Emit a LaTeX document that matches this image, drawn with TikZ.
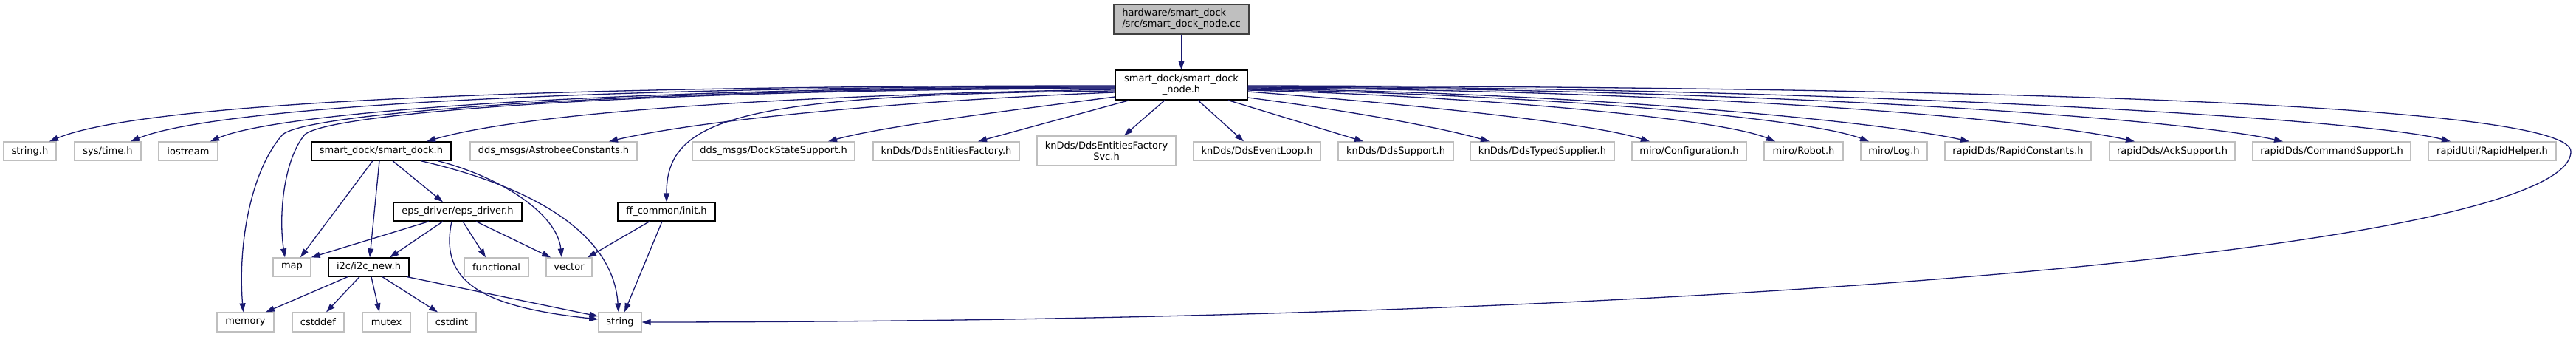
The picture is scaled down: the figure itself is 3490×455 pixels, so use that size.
\documentclass[tikz,border=0pt]{standalone}
\usepackage{fontspec}
\setmainfont{DejaVu Sans}
\usetikzlibrary{arrows.meta,calc}
\definecolor{edgeblue}{HTML}{191970}
\definecolor{leafgray}{HTML}{BFBFBF}
\definecolor{rootborder}{HTML}{404040}
\begin{document}
\begin{tikzpicture}[x=1pt,y=-1pt,
  box/.style={draw, fill=white, line width=1.3pt, inner sep=0pt, font=\fontsize{13}{15}\selectfont, text=black},
  leaf/.style={box, draw=leafgray},
  docbox/.style={box, draw=black},
  rootbox/.style={box, draw=rootborder, fill=leafgray},
  edge/.style={draw=edgeblue, line width=1.3pt, -{Triangle[length=12pt,width=8pt]}},
]
\fill[white] (0,0) rectangle (3490,455);
\useasboundingbox (0,0) rectangle (3490,455);

% row 1 and 2
\node[rootbox, minimum width=183, minimum height=40, align=left] (root) at (1600.5,26) {hardware/smart\_dock\\/src/smart\_dock\_node.cc};
\node[docbox, minimum width=179, minimum height=40, align=center] (nodeh) at (1600.5,115) {smart\_dock/smart\_dock\\\_node.h};

% row 3
\node[leaf, minimum width=71, minimum height=25] (stringh) at (40.5,204.5) {string.h};
\node[leaf, minimum width=90, minimum height=25] (systime) at (146,204.5) {sys/time.h};
\node[leaf, minimum width=80, minimum height=25] (iostream) at (255,204.5) {iostream};
\node[docbox, minimum width=189, minimum height=25] (smartdock) at (516.5,204.5) {smart\_dock/smart\_dock.h};
\node[leaf, minimum width=226, minimum height=25] (astrobee) at (750,204.5) {dds\_msgs/AstrobeeConstants.h};
\node[leaf, minimum width=220, minimum height=25] (dockstate) at (1048,204.5) {dds\_msgs/DockStateSupport.h};
\node[leaf, minimum width=198, minimum height=25] (entfac) at (1282,204.5) {knDds/DdsEntitiesFactory.h};
\node[leaf, minimum width=188, minimum height=40, align=center] (svc) at (1499,204) {knDds/DdsEntitiesFactory\\Svc.h};
\node[leaf, minimum width=172, minimum height=25] (eventloop) at (1703,204.5) {knDds/DdsEventLoop.h};
\node[leaf, minimum width=156, minimum height=25] (ddssupport) at (1891,204.5) {knDds/DdsSupport.h};
\node[leaf, minimum width=195, minimum height=25] (typed) at (2089.5,204.5) {knDds/DdsTypedSupplier.h};
\node[leaf, minimum width=155, minimum height=25] (config) at (2288.5,204.5) {miro/Configuration.h};
\node[leaf, minimum width=107, minimum height=25] (robot) at (2443.5,204.5) {miro/Robot.h};
\node[leaf, minimum width=90, minimum height=25] (log) at (2566,204.5) {miro/Log.h};
\node[leaf, minimum width=198, minimum height=25] (rapidconst) at (2734,204.5) {rapidDds/RapidConstants.h};
\node[leaf, minimum width=170, minimum height=25] (ack) at (2943,204.5) {rapidDds/AckSupport.h};
\node[leaf, minimum width=214, minimum height=25] (command) at (3159,204.5) {rapidDds/CommandSupport.h};
\node[leaf, minimum width=173, minimum height=25] (rapidhelper) at (3376.5,204.5) {rapidUtil/RapidHelper.h};

% row 4
\node[docbox, minimum width=174, minimum height=25] (eps) at (620,286.5) {eps\_driver/eps\_driver.h};
\node[docbox, minimum width=132, minimum height=25] (ffinit) at (903,286.5) {ff\_common/init.h};

% row 5
\node[leaf, minimum width=51, minimum height=25] (map) at (395.5,361.5) {map};
\node[docbox, minimum width=109, minimum height=25] (i2c) at (499.5,361.5) {i2c/i2c\_new.h};
\node[leaf, minimum width=87, minimum height=25] (functional) at (672.5,361.5) {functional};
\node[leaf, minimum width=62, minimum height=25] (vector) at (771,361.5) {vector};

% row 6
\node[leaf, minimum width=77, minimum height=26] (memory) at (332.5,436) {memory};
\node[leaf, minimum width=70, minimum height=26] (cstddef) at (431,436) {cstddef};
\node[leaf, minimum width=65, minimum height=26] (mutex) at (523.5,436) {mutex};
\node[leaf, minimum width=66, minimum height=26] (cstdint) at (612,436) {cstdint};
\node[leaf, minimum width=58, minimum height=26] (string) at (840,436) {string};

% edges
\draw[edge] (root) -- (nodeh);

\draw[edge] ($(nodeh.west)+(0,1)$) .. controls (700,116) and (190,140) .. ($(stringh.north)+(26.5,0)$);
\draw[edge] ($(nodeh.west)+(0,2)$) .. controls (780,117) and (290,145) .. ($(systime.north)+(31,0)$);
\draw[edge] ($(nodeh.west)+(0,3)$) .. controls (850,118) and (380,150) .. ($(iostream.north)+(30,0)$);
\draw[edge] ($(nodeh.west)+(0,4)$) .. controls (900,119) and (420,150) .. (383,182) .. controls (340,230) and (322,330) .. ($(memory.north)+(-3,0)$);
\draw[edge] ($(nodeh.west)+(0,5)$) .. controls (920,120) and (450,150) .. (413,182) .. controls (385,215) and (377,290) .. ($(map.north)+(-9.5,0)$);
\draw[edge] ($(nodeh.west)+(0,6)$) .. controls (1100,128) and (720,150) .. ($(smartdock.north)+(61.5,0)$);
\draw[edge] ($(nodeh.west)+(0,8)$) .. controls (1000,128) and (903,160) .. (ffinit.north);
\draw[edge] ($(nodeh.west)+(0,10)$) .. controls (1250,135) and (960,160) .. ($(astrobee.north)+(75,0)$);
\draw[edge] ($(nodeh.west)+(0,16)$) .. controls (1380,148) and (1200,170) .. ($(dockstate.north)+(74,0)$);
\draw[edge] ($(nodeh.south)+(-70.5,0)$) -- ($(entfac.north)+(43,0)$);
\draw[edge] ($(nodeh.south)+(-22.5,0)$) -- ($(svc.north)+(24,0)$);
\draw[edge] ($(nodeh.south)+(22.5,0)$) -- ($(eventloop.north)+(-18,0)$);
\draw[edge] ($(nodeh.south)+(63.5,0)$) -- ($(ddssupport.north)+(-44,0)$);
\draw[edge] ($(nodeh.east)+(0,17)$) .. controls (1830,150) and (1950,172) .. ($(typed.north)+(-71.5,0)$);
\draw[edge] ($(nodeh.east)+(0,9)$) .. controls (1900,140) and (2150,165) .. ($(config.north)+(-53.5,0)$);
\draw[edge] ($(nodeh.east)+(0,7)$) .. controls (2000,130) and (2330,160) .. ($(robot.north)+(-38.5,0)$);
\draw[edge] ($(nodeh.east)+(0,6)$) .. controls (2100,128) and (2450,160) .. ($(log.north)+(-34,0)$);
\draw[edge] ($(nodeh.east)+(0,5)$) .. controls (2150,125) and (2550,165) .. ($(rapidconst.north)+(-66,0)$);
\draw[edge] ($(nodeh.east)+(0,4)$) .. controls (2300,122) and (2750,160) .. ($(ack.north)+(-51,0)$);
\draw[edge] ($(nodeh.east)+(0,3)$) .. controls (2400,120) and (2950,160) .. ($(command.north)+(-66,0)$);
\draw[edge] ($(nodeh.east)+(0,2)$) .. controls (2500,118) and (3200,160) .. ($(rapidhelper.north)+(-56.5,0)$);
\draw[edge] ($(nodeh.east)+(0,1)$) .. controls (2900,118) and (3483,150) .. (3483,205) .. controls (3483,330) and (2400,435) .. (string.east);

% smart_dock.h
\draw[edge] ($(smartdock.south)+(-11.5,0)$) -- ($(map.north)+(11.5,0)$);
\draw[edge] ($(smartdock.south)+(-2.5,0)$) -- ($(i2c.north)+(1.5,0)$);
\draw[edge] ($(smartdock.south)+(15.5,0)$) -- ($(eps.north)+(-20,0)$);
\draw[edge] ($(smartdock.south)+(76.5,0)$) .. controls (680,240) and (755,290) .. ($(vector.north)+(-10,0)$);
\draw[edge] ($(smartdock.south)+(53.5,0)$) .. controls (710,250) and (830,310) .. ($(string.north)+(-2,0)$);

% eps_driver.h
\draw[edge] ($(eps.south)+(-39,0)$) -- (map.north east);
\draw[edge] ($(eps.south)+(-20,0)$) -- ($(i2c.north)+(28.5,0)$);
\draw[edge] ($(eps.south)+(-8,0)$) .. controls (595,380) and (650,415) .. ($(string.west)+(0,-4)$);
\draw[edge] ($(eps.south)+(7,0)$) -- ($(functional.north)+(-14.5,0)$);
\draw[edge] ($(eps.south)+(25,0)$) -- ($(vector.north)+(-25,0)$);

% ff_common/init.h
\draw[edge] ($(ffinit.south)+(-23,0)$) -- ($(vector.north)+(25,0)$);
\draw[edge] ($(ffinit.south)+(-6,0)$) -- ($(string.north)+(6,0)$);

% i2c_new.h
\draw[edge] ($(i2c.south)+(-28.5,0)$) -- ($(memory.north)+(27.5,0)$);
\draw[edge] ($(i2c.south)+(-12.5,0)$) -- ($(cstddef.north)+(11,0)$);
\draw[edge] ($(i2c.south)+(3.5,0)$) -- ($(mutex.north)+(-9.5,0)$);
\draw[edge] ($(i2c.south)+(18.5,0)$) -- ($(cstdint.north)+(-19,0)$);
\draw[edge] ($(i2c.south)+(52,0)$) -- ($(string.west)+(0,-8)$);
\end{tikzpicture}
\end{document}
